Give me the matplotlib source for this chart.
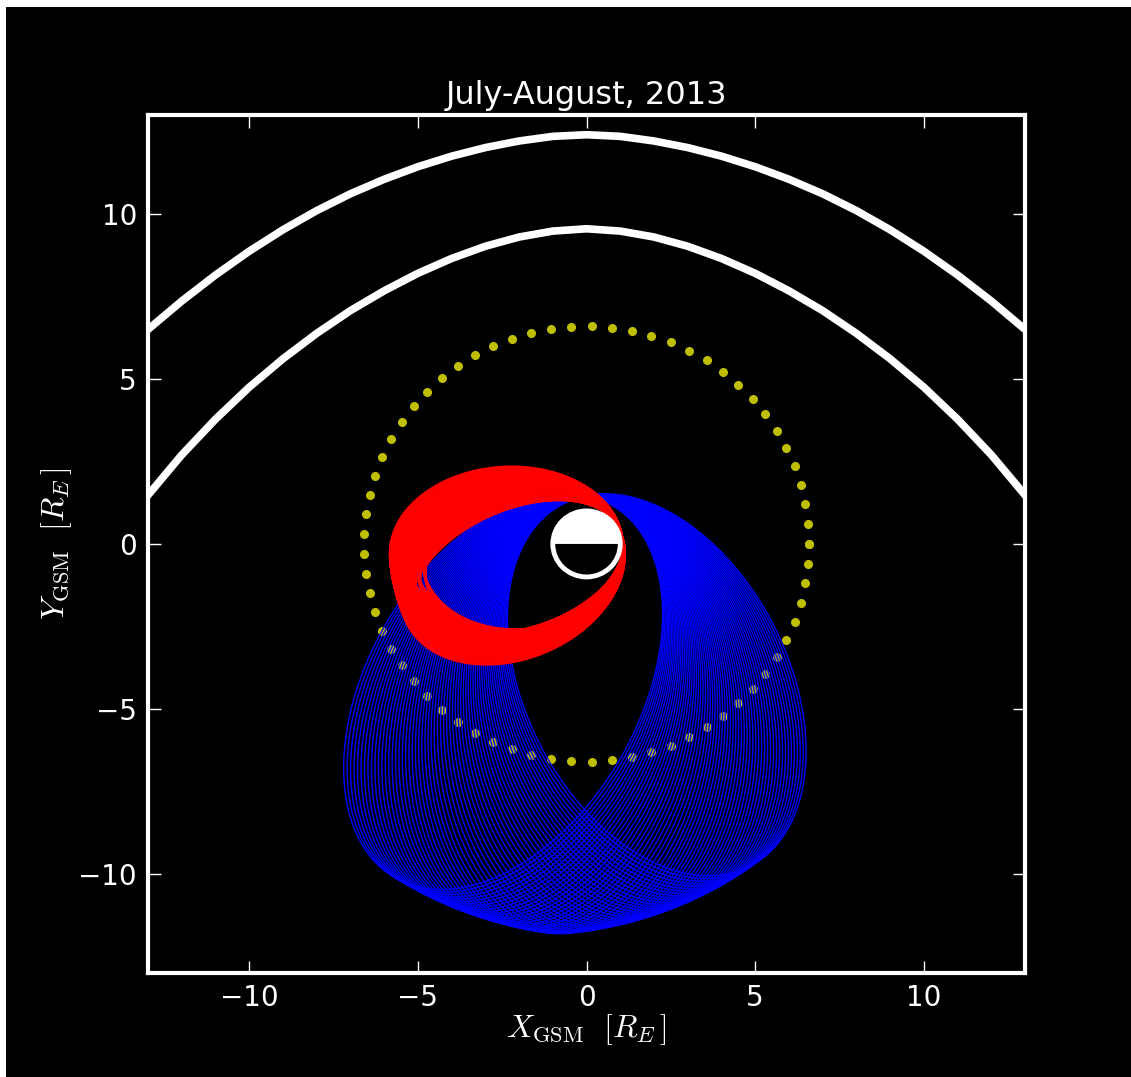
import numpy as np
import matplotlib.pyplot as plt
from matplotlib.patches import Circle, Wedge, Rectangle

plt.rcParams['mathtext.fontset'] = 'cm'

# bow shock and magnetopause, Y_GSM read at each X_GSM (R_E)
curve_x = [-13, -12, -11, -10, -9, -8, -7, -6, -5, -4, -3, -2, -1, 0,
           1, 2, 3, 4, 5, 6, 7, 8, 9, 10, 11, 12, 13]
bow_y = [6.5, 7.36, 8.15, 8.87, 9.52, 10.1, 10.61, 11.05, 11.43, 11.75, 12.01, 12.21, 12.35, 12.4,
         12.35, 12.21, 12.01, 11.75, 11.43, 11.05, 10.61, 10.1, 9.52, 8.87, 8.15, 7.36, 6.5]
mp_y = [1.48, 2.7, 3.78, 4.75, 5.61, 6.38, 7.07, 7.67, 8.2, 8.65, 9.02, 9.3, 9.48, 9.55,
        9.48, 9.3, 9.02, 8.65, 8.2, 7.67, 7.07, 6.38, 5.61, 4.75, 3.78, 2.7, 1.48]

# geosynchronous ring
geo_radius = 6.6
n_geo = 70

# orbit families: perigee, apogee (R_E), apsides direction (deg)
blue_perigee = 1.4
blue_apse = [-119.0, -95.0, -64.0]
blue_apogee = [11.6, 11.85, 10.9]
n_blue = 62

# red groups: apogee, projected minor-axis factor, apsides range
red_perigee = 1.08
red_apogee = [5.85, 5.7, 5.6, 5.5, 5.3, 5.1, 4.9]
red_squash = [1.0, 0.9, 0.8, 1.0, 1.0, 1.0, 1.0]
red_apse_lo = [184.0, 190.0, 196.0, 185.0, 186.0, 187.0, 188.0]
red_apse_hi = [204.0, 204.0, 205.0, 202.0, 201.0, 199.0, 197.0]
n_red = 40


def orbit(rp, ra, apse, squash=1.0, n=720):
    e = (ra - rp) / (ra + rp)
    p = 2 * ra * rp / (ra + rp)
    th = np.linspace(0, 2 * np.pi, n)
    r = p / (1 - e * np.cos(th))
    u = r * np.cos(th)
    v = r * np.sin(th) * squash
    a = np.radians(apse)
    return u * np.cos(a) - v * np.sin(a), u * np.sin(a) + v * np.cos(a)


fig = plt.figure(figsize=(11.31, 10.77), dpi=100, facecolor='white')
fig.patches.append(Rectangle((6 / 1131, 0), 1, 1 - 7 / 1077, transform=fig.transFigure,
                             facecolor='black', edgecolor='none', zorder=-10))
ax = fig.add_axes([0.1309, 0.0966, 0.7754, 0.7967], facecolor='black')

ax.plot(curve_x, bow_y, color='white', lw=5.5, solid_joinstyle='round')
ax.plot(curve_x, mp_y, color='white', lw=5.5, solid_joinstyle='round')

t = np.linspace(0, 2 * np.pi, n_geo)
ax.plot(geo_radius * np.cos(t), geo_radius * np.sin(t), 'o', color=(0.75, 0.75, 0),
        ms=5.5, mec=(0.75, 0.75, 0), zorder=1)

blue_angles = np.linspace(blue_apse[0], blue_apse[-1], n_blue)
for apse in blue_angles:
    ra = np.interp(apse, blue_apse, blue_apogee)
    x, y = orbit(blue_perigee, ra, apse)
    ax.plot(x, y, color='blue', lw=1.0, zorder=2)

# earth: day side white, night side black
ax.add_patch(Circle((0, 0), 1.0, facecolor='black', edgecolor='none', zorder=3))
ax.add_patch(Wedge((0, 0), 1.0, 0, 180, facecolor='white', edgecolor='none', zorder=3))

for ra, sq, lo, hi in zip(red_apogee, red_squash, red_apse_lo, red_apse_hi):
    for apse in np.linspace(lo, hi, n_red):
        x, y = orbit(red_perigee, ra, apse, sq)
        ax.plot(x, y, color='red', lw=1.2, zorder=4)

ax.add_patch(Circle((0, 0), 1.0, facecolor='none', edgecolor='white', lw=3.5, zorder=5))

ax.set_xlim(-13, 13)
ax.set_ylim(-13, 13)
ax.set_xticks([-10, -5, 0, 5, 10])
ax.set_yticks([-10, -5, 0, 5, 10])
ax.tick_params(direction='in', length=9, width=1, colors='white', top=True, right=True,
               labelsize=20, pad=8)
for s in ax.spines.values():
    s.set_color('white')
    s.set_linewidth(3)

ax.set_title('July-August, 2013', color='white', fontsize=23, pad=8)
ax.set_xlabel(r'$X_{\rm GSM}\ \ [R_E\,]$', color='white', fontsize=23, labelpad=0)
ax.set_ylabel(r'$Y_{\rm GSM}\ \ [R_E\,]$', color='white', fontsize=23, labelpad=3)

fig.savefig('out.png', dpi=100, facecolor=fig.get_facecolor())
